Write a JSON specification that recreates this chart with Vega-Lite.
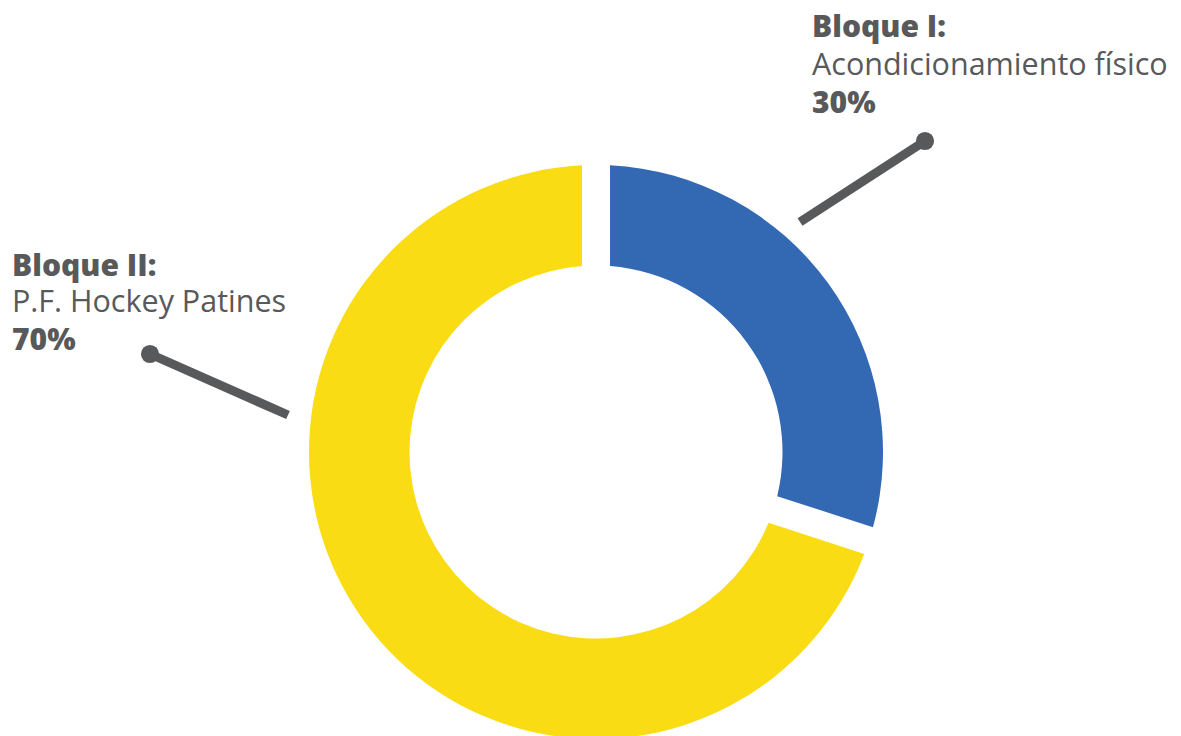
{
  "$schema": "https://vega.github.io/schema/vega-lite/v6.json",
  "width": 1181,
  "height": 736,
  "padding": 0,
  "autosize": {"type": "none"},
  "background": "white",
  "config": {"view": {"stroke": null}},
  "datasets": {
    "bloques": [
      {"bloque": "Bloque I", "porcentaje": 30, "orden": 1},
      {"bloque": "Bloque II", "porcentaje": 70, "orden": 2}
    ],
    "guias": [
      {"bloque": "Bloque I", "x1": 800, "y1": 222, "x2": 925, "y2": 141},
      {"bloque": "Bloque II", "x1": 288, "y1": 415, "x2": 150, "y2": 354}
    ],
    "etiquetas": [
      {"texto": "Bloque I:", "x": 812, "y": 37, "peso": "bold"},
      {"texto": "Acondicionamiento físico", "x": 812, "y": 75, "peso": "normal"},
      {"texto": "30%", "x": 812, "y": 113, "peso": "bold"},
      {"texto": "Bloque II:", "x": 12, "y": 276, "peso": "bold"},
      {"texto": "P.F. Hockey Patines", "x": 12, "y": 312, "peso": "normal"},
      {"texto": "70%", "x": 12, "y": 350, "peso": "bold"}
    ]
  },
  "layer": [
    {
      "data": {"name": "bloques"},
      "mark": {"type": "arc", "innerRadius": 186.5, "outerRadius": 287, "padAngle": 0.082},
      "encoding": {
        "x": {"datum": 596, "type": "quantitative", "scale": {"domain": [0, 1181], "nice": false, "zero": false}, "axis": null},
        "y": {"datum": 452, "type": "quantitative", "scale": {"domain": [0, 736], "nice": false, "zero": false, "reverse": true}, "axis": null},
        "theta": {"field": "porcentaje", "type": "quantitative", "stack": true},
        "order": {"field": "orden", "type": "quantitative"},
        "color": {"field": "bloque", "type": "nominal", "scale": {"domain": ["Bloque I", "Bloque II"], "range": ["#3369b3", "#f9dc13"]}, "legend": null}
      }
    },
    {
      "data": {"name": "guias"},
      "mark": {"type": "rule", "strokeWidth": 9, "color": "#58595b", "strokeCap": "butt"},
      "encoding": {
        "x": {"field": "x1", "type": "quantitative"},
        "y": {"field": "y1", "type": "quantitative"},
        "x2": {"field": "x2"},
        "y2": {"field": "y2"}
      }
    },
    {
      "data": {"name": "guias"},
      "mark": {"type": "circle", "size": 330, "opacity": 1, "color": "#58595b"},
      "encoding": {
        "x": {"field": "x2", "type": "quantitative"},
        "y": {"field": "y2", "type": "quantitative"}
      }
    },
    {
      "data": {"name": "etiquetas"},
      "transform": [{"filter": "datum.peso === 'bold'"}],
      "mark": {"type": "text", "align": "left", "baseline": "alphabetic", "font": "Open Sans", "fontWeight": 800, "fontSize": 30, "color": "#58595b"},
      "encoding": {
        "x": {"field": "x", "type": "quantitative"},
        "y": {"field": "y", "type": "quantitative"},
        "text": {"field": "texto"}
      }
    },
    {
      "data": {"name": "etiquetas"},
      "transform": [{"filter": "datum.peso === 'normal'"}],
      "mark": {"type": "text", "align": "left", "baseline": "alphabetic", "font": "Open Sans", "fontWeight": 400, "fontSize": 30.5, "color": "#58595b"},
      "encoding": {
        "x": {"field": "x", "type": "quantitative"},
        "y": {"field": "y", "type": "quantitative"},
        "text": {"field": "texto"}
      }
    }
  ]
}
